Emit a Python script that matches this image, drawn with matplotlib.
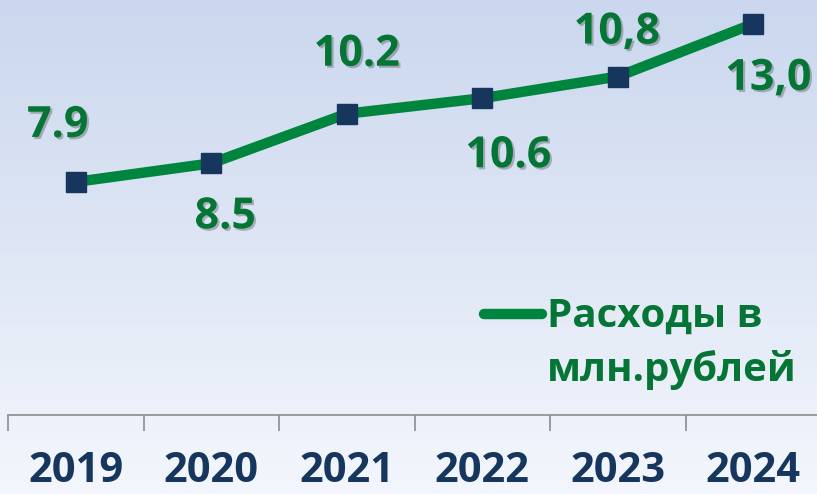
import numpy as np
import matplotlib
matplotlib.use("Agg")
import matplotlib.pyplot as plt
import matplotlib.patheffects as pe
from matplotlib.colors import LinearSegmentedColormap

years = ["2019", "2020", "2021", "2022", "2023", "2024"]
expenses = [7.9, 8.5, 10.1, 10.6, 11.3, 13.0]
value_labels = ["7.9", "8.5", "10.2", "10.6", "10,8", "13,0"]
series_name = "Расходы в\nмлн.рублей"

# label offsets in pixels (dx, dy down positive), converted to points below
offsets_px = [(-18, -45), (14, 65), (10, -48), (26, 69), (-1, -33), (15, 66)]

plt.rcParams["font.family"] = ["Open Sans", "DejaVu Sans"]

fig = plt.figure(figsize=(8.17, 4.94), dpi=100)

# background gradient
bg = fig.add_axes([0, 0, 1, 1], zorder=0)
cmap = LinearSegmentedColormap.from_list("bg", ["#cad7ee", "#f3f6fc"])
bg.imshow(np.linspace(0, 1, 256).reshape(-1, 1), aspect="auto", cmap=cmap,
          extent=[0, 1, 0, 1])
bg.axis("off")

ax = fig.add_axes([8 / 817, 79 / 494, 813 / 817, 415 / 494], zorder=1)
ax.patch.set_alpha(0)

x = np.arange(len(years))
green = "#00853e"
navy = "#17365d"
ax.plot(x, expenses, color=green, lw=7.5, solid_capstyle="round",
        marker="s", markersize=15, markerfacecolor=navy, markeredgecolor=navy,
        label=series_name, zorder=3)

shadow = [pe.SimplePatchShadow(offset=(1.5, -1.5), shadow_rgbFace="#444444", alpha=0.35),
          pe.Normal()]
for xi, v, txt, (dx, dy) in zip(x, expenses, value_labels, offsets_px):
    ax.annotate(txt, (xi, v), xytext=(dx / 1.389, -dy / 1.389),
                textcoords="offset points", ha="center", va="baseline",
                fontsize=31, fontweight="bold", color="#057535",
                path_effects=shadow, zorder=4)

ax.set_xlim(-0.5, 5.5)
ax.set_ylim(0.38, 13.77)
ax.set_xticks(x)
ax.set_xticklabels(years, fontsize=30, fontweight="bold", color=navy)
ax.set_xticks(np.arange(len(years) + 1) - 0.5, minor=True)
ax.tick_params(axis="x", which="major", length=0, pad=26)
ax.tick_params(axis="x", which="minor", length=11.5, width=1.2, color="#8c8c8c",
               direction="out")
ax.set_yticks([])
for s in ["top", "right", "left"]:
    ax.spines[s].set_visible(False)
ax.spines["bottom"].set_color("#8c8c8c")
ax.spines["bottom"].set_linewidth(1.2)

leg = ax.legend(loc="upper left", bbox_to_anchor=(0.585, 0.285), frameon=False,
                borderaxespad=0, borderpad=0,
                handlelength=1.45, handletextpad=0.12,
                prop={"size": 29, "weight": "bold"}, labelcolor="#057535")
for t in leg.get_texts():
    t.set_linespacing(1.45)
h = leg.legend_handles[0]
h.set_marker("")
h.set_ydata(np.asarray(h.get_ydata()) + 22)

fig.savefig("out.png", dpi=100)
